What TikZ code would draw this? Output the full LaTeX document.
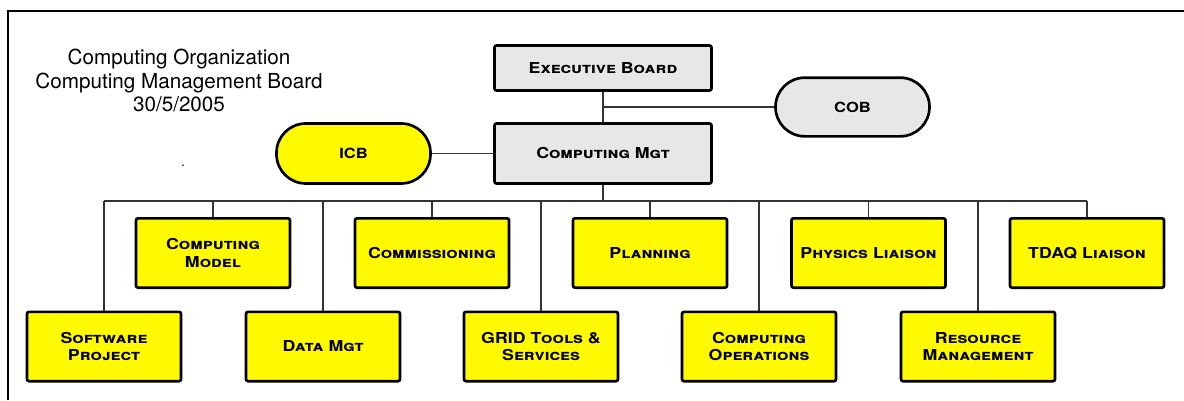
\documentclass[tikz,border=0pt]{standalone}
\usepackage{fontspec}
\setmainfont{TeX Gyre Heros}
\newfontfamily\boxfont[FakeStretch=1.18]{TeX Gyre Heros}

\definecolor{boxgelb}{RGB}{255,250,0}
\definecolor{boxgrau}{RGB}{231,231,231}

\tikzset{
  unit/.style={draw, line width=2pt, fill=boxgelb, rounded corners=1.5pt,
    minimum width=115.5pt, minimum height=52pt, inner sep=2pt, align=center,
    font=\boxfont\bfseries\scshape\fontsize{11.3}{13}\selectfont},
  board/.style={unit, fill=boxgrau, minimum width=162.75pt},
  panel/.style={unit, rounded corners=22pt, minimum height=45pt,
    font=\boxfont\bfseries\fontsize{10.5}{12}\selectfont},
  link/.style={draw=black!80, line width=0.8pt}
}

\begin{document}
\begin{tikzpicture}[x=0.75pt, y=-0.75pt]
\useasboundingbox (0,0) rectangle (1184,400);

% Rahmen
\draw[line width=1.5pt] (7.5,400) -- (7.5,10.5) -- (1184,10.5);

% Titel
\node[align=center, font=\fontsize{15.5}{17.8}\selectfont] (titel) at (179,80.5)
  {Computing Organization\\Computing Management Board\\30/5/2005};
\node (punkt) at (183,166) {.};

% Leitung
\node[board, minimum height=33.75pt] (exec) at (603,68) {Executive Board};
\node[board, minimum height=45pt] (cmgt) at (603,153.5) {Computing Mgt};
\node[panel, fill=boxgelb] (icb) at (353.5,153.5) {ICB};
\node[panel, fill=boxgrau, minimum height=44pt] (cob) at (852.5,107) {COB};

% Obere Reihe
\node[unit] (cmodel) at (213,253) {Computing\\Model};
\node[unit] (comm) at (432,253) {Commissioning};
\node[unit] (plan) at (650,253) {Planning};
\node[unit] (phys) at (868.5,253) {Physics Liaison};
\node[unit] (tdaq) at (1087,253) {TDAQ Liaison};

% Untere Reihe
\node[unit] (soft) at (104,346.5) {Software\\Project};
\node[unit] (data) at (323,346.5) {Data Mgt};
\node[unit] (grid) at (541,346.5) {GRID Tools \&\\Services};
\node[unit] (ops) at (759,346.5) {Computing\\Operations};
\node[unit] (res) at (978,346.5) {Resource\\Management};

% Verbindungen
\coordinate (knick) at (603,107);
\coordinate (bus) at (603,201);
\draw[link] (exec) -- (cmgt);
\draw[link] (knick) -- (cob);
\draw[link] (icb) -- (cmgt);
\draw[link] (cmgt) -- (bus);
\draw[link] (soft.north |- bus) -- (tdaq.north |- bus);

% Abzweige
\draw[link] (soft.north |- bus) -- (soft.north);
\draw[link] (cmodel.north |- bus) -- (cmodel.north);
\draw[link] (data.north |- bus) -- (data.north);
\draw[link] (comm.north |- bus) -- (comm.north);
\draw[link] (grid.north |- bus) -- (grid.north);
\draw[link] (plan.north |- bus) -- (plan.north);
\draw[link] (ops.north |- bus) -- (ops.north);
\draw[link] (phys.north |- bus) -- (phys.north);
\draw[link] (res.north |- bus) -- (res.north);
\draw[link] (tdaq.north |- bus) -- (tdaq.north);
\end{tikzpicture}
\end{document}
